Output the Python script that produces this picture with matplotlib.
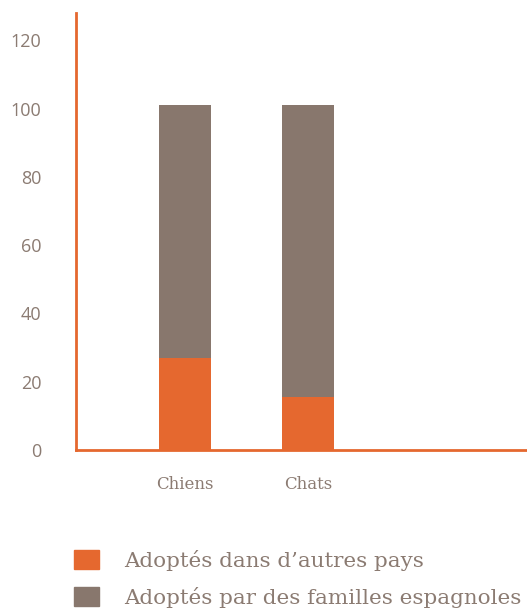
import matplotlib
matplotlib.use("Agg")
import matplotlib.pyplot as plt
from matplotlib.patches import Patch

categories = ["Chiens", "Chats"]
autres_pays = [27, 15.5]
familles_espagnoles = [74, 85.5]
series_labels = ["Adoptés dans d’autres pays", "Adoptés par des familles espagnoles"]
yticks = [0, 20, 40, 60, 80, 100, 120]

ORANGE = "#E5682F"
GREY = "#88776D"
TEXT = "#8B7B72"

W, H = 527, 613
fig = plt.figure(figsize=(W / 100, H / 100), dpi=100)
ax = fig.add_axes([76 / W, (H - 450) / H, (W - 76) / W, (450 - 13) / H])

x = list(range(len(categories)))
ax.bar(x, autres_pays, width=0.42, color=ORANGE, zorder=2)
ax.bar(x, familles_espagnoles, bottom=autres_pays, width=0.42, color=GREY, zorder=2)

ax.set_xlim(-0.886, 2.78)
ax.set_ylim(0, 128)
ax.set_yticks(yticks)
ax.set_yticklabels([str(t) for t in yticks], family="Open Sans", fontsize=13, color=TEXT)
ax.set_xticks(x)
ax.set_xticklabels(categories, family="DejaVu Serif", fontsize=12, color=TEXT)
ax.tick_params(axis="y", length=0, pad=25)
ax.tick_params(axis="x", length=0, pad=19)
for s in ["top", "right"]:
    ax.spines[s].set_visible(False)
for s in ["left", "bottom"]:
    ax.spines[s].set_color(ORANGE)
    ax.spines[s].set_linewidth(2)

handles = [Patch(color=ORANGE), Patch(color=GREY)]
leg = fig.legend(handles, series_labels, loc="upper left",
                 bbox_to_anchor=(74 / W, 1 - 550 / H), frameon=False,
                 prop={"family": "DejaVu Serif", "size": 15.4},
                 handlelength=1.15, handleheight=0.97, handletextpad=1.2,
                 labelspacing=0.74, borderaxespad=0, borderpad=0)
for t in leg.get_texts():
    t.set_color(TEXT)

fig.savefig("out.png", dpi=100)
